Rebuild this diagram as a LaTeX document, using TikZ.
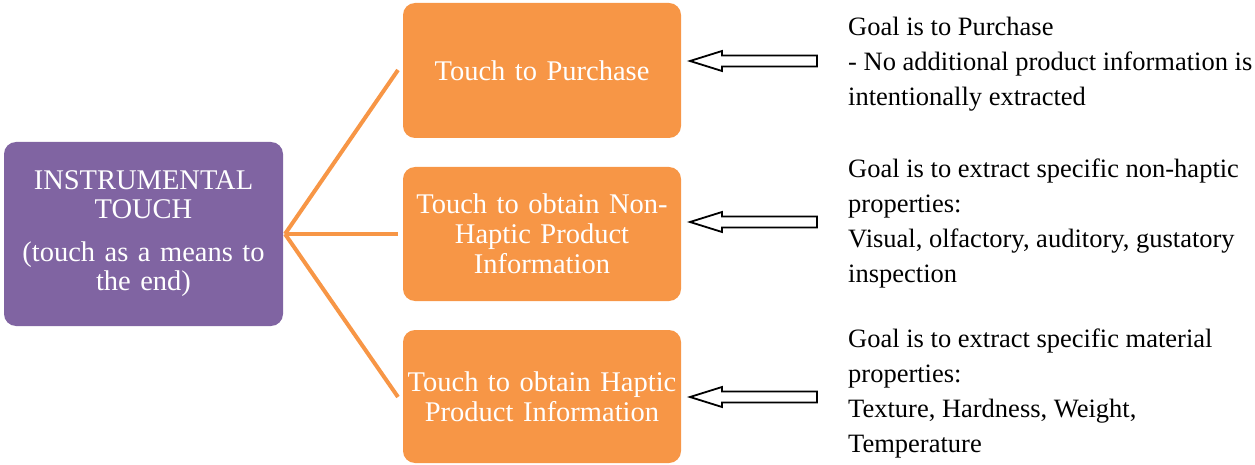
\documentclass[tikz,border=0pt]{standalone}
\usepackage{fontspec}
\setmainfont{Liberation Serif}
\definecolor{tpurple}{HTML}{8064A2}
\definecolor{torange}{HTML}{F79646}
\begin{document}
\begin{tikzpicture}[x=1pt,y=-1pt,
  box/.style={rounded corners=12pt, draw=none, text=white, align=center, inner sep=0pt, font=\fontsize{28.5}{30}\selectfont},
  obox/.style={box, fill=torange, minimum width=278pt, text width=270pt},
  pbox/.style={box, fill=tpurple, minimum width=279pt, minimum height=184pt, text width=270pt, font=\fontsize{28.5}{29}\selectfont},
  link/.style={draw=torange, line width=4pt},
  desc/.style={anchor=north west, align=left, inner sep=0pt, font=\fontsize{26.5}{35}\selectfont},
  hollow/.style={draw=black, line width=1.8pt, fill=white, line join=miter},
  hollowarrow/.pic={\path[hollow] (0,0) -- (32,-10) -- (32,-5.5) -- (127,-5.5) -- (127,5.5) -- (32,5.5) -- (32,10) -- cycle;}
]
\useasboundingbox (0,0) rectangle (1255,465);
\node[pbox] (left) at (143.5,234) {INSTRUMENTAL\\TOUCH\\[14pt](touch as a means to\\the end)};
\node[obox, minimum height=135pt] (b1) at (542,70.5) {Touch to Purchase};
\node[obox, minimum height=134pt] (b2) at (542,234) {Touch to obtain Non-\\Haptic Product\\Information};
\node[obox, minimum height=133pt] (b3) at (542,396.5) {Touch to obtain Haptic\\Product Information};
\coordinate (c1) at (398,70);
\coordinate (c2) at (398,234);
\coordinate (c3) at (398,397);
\coordinate (hub) at (285,234);
\draw[link] (hub) -- (c1);
\draw[link] (hub) -- (c2);
\draw[link] (hub) -- (c3);
\pic at (690,61) {hollowarrow};
\pic at (690,222) {hollowarrow};
\pic at (690,397) {hollowarrow};
\node[desc] (d1) at (848,17) {Goal is to Purchase\\- No additional product information is\\intentionally extracted};
\node[desc] (d2) at (848,159) {Goal is to extract specific non-haptic\\properties:\\Visual, olfactory, auditory, gustatory\\inspection};
\node[desc] (d3) at (848,329) {Goal is to extract specific material\\properties:\\Texture, Hardness, Weight,\\Temperature};
\end{tikzpicture}
\end{document}
